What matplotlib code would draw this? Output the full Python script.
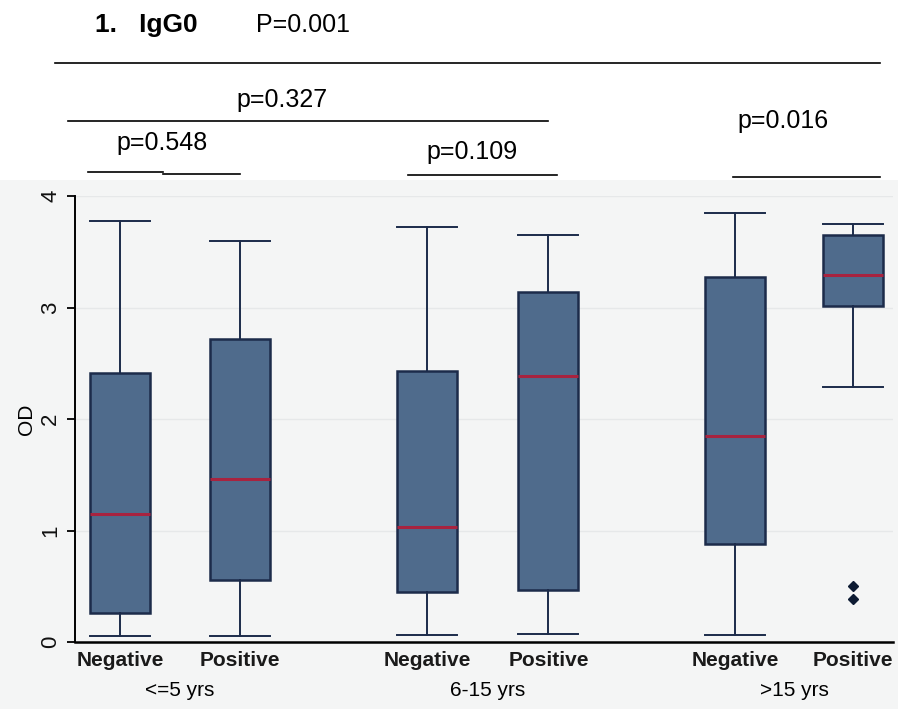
import matplotlib
matplotlib.use("Agg")
import matplotlib.pyplot as plt
from matplotlib.lines import Line2D
from matplotlib.patches import Rectangle

plt.rcParams['font.family'] = ['Liberation Sans', 'DejaVu Sans']

# Data
groups = ["<=5 yrs", "6-15 yrs", ">15 yrs"]
statuses = ["Negative", "Positive"]
whislo = [0.05, 0.05, 0.06, 0.07, 0.06, 2.29]
q1 = [0.26, 0.56, 0.45, 0.47, 0.88, 3.01]
med = [1.15, 1.46, 1.03, 2.39, 1.85, 3.29]
q3 = [2.41, 2.72, 2.43, 3.14, 3.27, 3.65]
whishi = [3.78, 3.60, 3.72, 3.65, 3.85, 3.75]
fliers = [[], [], [], [], [], [0.50, 0.39]]
p_overall = "P=0.001"
p_labels = ["p=0.327", "p=0.548", "p=0.109", "p=0.016"]
yticks = [0, 1, 2, 3, 4]

W, H = 898, 709
fig = plt.figure(figsize=(W / 100, H / 100), dpi=100)
fig.patch.set_facecolor('white')

bg = '#f4f5f5'
bgax = fig.add_axes([0, 0, 1, (H - 180) / H], zorder=-5)
bgax.set_facecolor(bg)
bgax.set_axis_off()
bgax.add_patch(Rectangle((0, 0), 1, 1, transform=bgax.transAxes, facecolor=bg, edgecolor='none'))

left, right, top, bottom = 75, 893, 196, 642
ax = fig.add_axes([left / W, (H - bottom) / H, (right - left) / W, (bottom - top) / H], zorder=1)
ax.set_facecolor(bg)

positions = [1.0, 2.0, 3.56, 4.57, 6.125, 7.11]
stats = []
for i in range(6):
    stats.append(dict(whislo=whislo[i], q1=q1[i], med=med[i], q3=q3[i],
                      whishi=whishi[i], fliers=fliers[i]))

edge = '#1c2b4a'
ax.bxp(stats, positions=positions, widths=0.5, patch_artist=True,
       boxprops=dict(facecolor='#4f6b8c', edgecolor=edge, linewidth=1.8),
       medianprops=dict(color='#a8233f', linewidth=2.2),
       whiskerprops=dict(color=edge, linewidth=1.4),
       capprops=dict(color=edge, linewidth=1.4),
       capwidths=0.5,
       flierprops=dict(marker='D', markersize=5, markerfacecolor='#0d1b33',
                       markeredgecolor='#0d1b33'))

ax.set_xlim(75 / 120, 893 / 120)
ax.set_ylim(0, 4)
ax.set_yticks(yticks)
ax.set_yticklabels([str(t) for t in yticks])
ax.tick_params(axis='y', length=6, width=1.3, pad=4, labelcolor='#111111',
               labelsize=16, labelrotation=90)
for lbl in ax.get_yticklabels():
    lbl.set_va('center')
ax.set_xticks([])
ax.grid(axis='y', color='#e6e8e9', linewidth=1)
ax.set_axisbelow(True)
for s in ['top', 'right']:
    ax.spines[s].set_visible(False)
ax.spines['left'].set_linewidth(1.4)
ax.spines['bottom'].set_linewidth(1.8)
ax.set_ylabel("OD", fontsize=15, labelpad=3)

for i, p in enumerate(positions):
    ax.text(p, -0.085, statuses[i % 2], ha='center', va='top', fontsize=15,
            fontweight='bold', color='#1a1a1a', clip_on=False)
gcent = [(positions[0] + positions[1]) / 2, (positions[2] + positions[3]) / 2,
         (positions[4] + positions[5]) / 2]
for g, c in zip(groups, gcent):
    ax.text(c, -0.35, g, ha='center', va='top', fontsize=15, clip_on=False)


def fx(x):
    return x / W


def fy(y):
    return 1 - y / H


def hline(x0, x1, y, lw=1.2):
    fig.add_artist(Line2D([fx(x0), fx(x1)], [fy(y), fy(y)], color='black', linewidth=lw,
                          transform=fig.transFigure))


fig.text(fx(95), fy(25), "1.   IgG0", fontsize=19, fontweight='bold', va='center', ha='left')
fig.text(fx(256), fy(25), p_overall, fontsize=18, va='center', ha='left')
hline(55, 880, 63)
fig.text(fx(282), fy(100), p_labels[0], fontsize=18, va='center', ha='center')
hline(68, 548, 121)
fig.text(fx(162), fy(143), p_labels[1], fontsize=18, va='center', ha='center')
hline(88, 163, 172)
hline(163, 240, 174)
fig.text(fx(472), fy(152), p_labels[2], fontsize=18, va='center', ha='center')
hline(408, 557, 175)
fig.text(fx(783), fy(121), p_labels[3], fontsize=18, va='center', ha='center')
hline(733, 880, 177)

fig.savefig("out.png", dpi=100, facecolor='white')
